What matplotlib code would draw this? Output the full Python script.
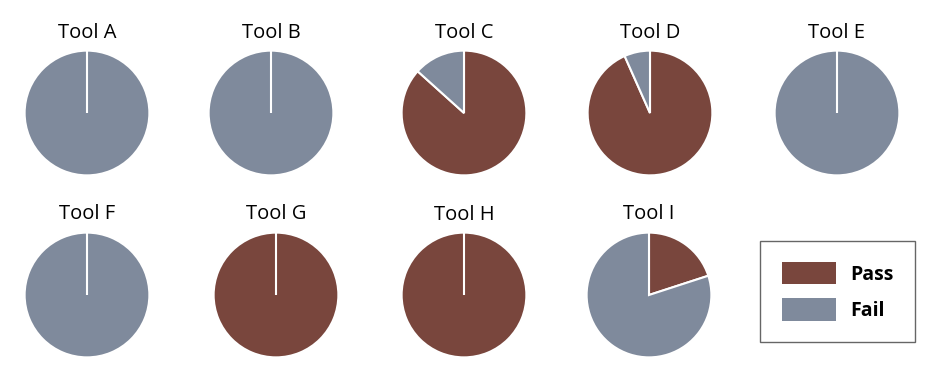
import matplotlib
matplotlib.use('Agg')
import matplotlib.pyplot as plt
from matplotlib.patches import Patch

plt.rcParams['font.family'] = ['Open Sans', 'DejaVu Sans']

tools = ['Tool A', 'Tool B', 'Tool C', 'Tool D', 'Tool E',
         'Tool F', 'Tool G', 'Tool H', 'Tool I']
passed = [0, 0, 13, 14, 0, 0, 15, 15, 3]
failed = [15, 15, 2, 1, 15, 15, 0, 0, 12]
series = ['Pass', 'Fail']
colors = ['#79463D', '#7F8A9C']

W, H = 926, 365
fig = plt.figure(figsize=(W / 100, H / 100), dpi=100)

# pie centres in pixels (from the top-left)
centres = [(87, 113), (271, 113), (464, 113), (650, 113), (837, 113),
           (87, 295), (276, 295), (464, 295), (649, 295)]
r = 63

for name, p, f, (cx, cy) in zip(tools, passed, failed, centres):
    ax = fig.add_axes([(cx - r) / W, 1 - (cy + r) / H, 2 * r / W, 2 * r / H])
    wedges, _ = ax.pie([p, f], colors=colors, startangle=90, counterclock=False,
                       radius=1, wedgeprops=dict(edgecolor='white', linewidth=1.5))
    for w in wedges:
        if w.theta2 - w.theta1 == 0:
            w.set_zorder(3)
    ax.set_xlim(-1.01, 1.01)
    ax.set_ylim(-1.01, 1.01)
    ax.set_title(name, fontsize=14.5, pad=9)

handles = [Patch(facecolor=c, edgecolor='none') for c in colors]
leg = fig.legend(handles, series, loc='center', bbox_to_anchor=(837.5 / W, 1 - 291.5 / H),
                 prop=dict(weight='bold', size=14), frameon=True, fancybox=False,
                 handlelength=2.8, handleheight=1.4, handletextpad=0.7,
                 borderpad=1.1, borderaxespad=0, labelspacing=0.7)
leg.get_frame().set_edgecolor('#404040')
leg.get_frame().set_linewidth(1.0)

fig.savefig('out.png', dpi=100)
